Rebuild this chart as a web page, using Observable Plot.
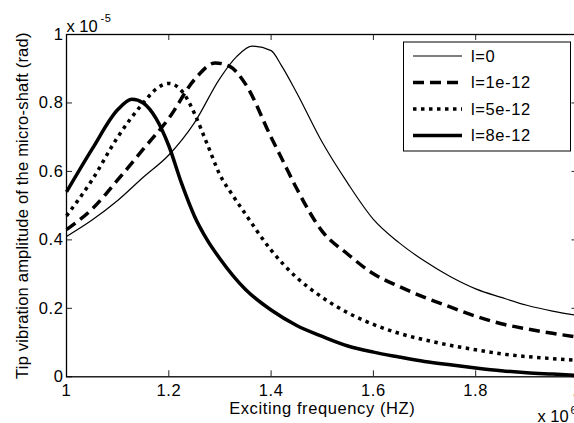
<!DOCTYPE html>
<html><head><meta charset="utf-8">
<script src="https://cdn.jsdelivr.net/npm/d3@7"></script>
<script src="https://cdn.jsdelivr.net/npm/@observablehq/plot@0.6"></script>
<style>
html,body{margin:0;padding:0;background:#fff;overflow:hidden;}
#chart svg{overflow:hidden;display:block;}
</style></head><body><div id="chart"></div>
<script>
// ---- data ----
const seriesNames = ["l=0", "l=1e-12", "l=5e-12", "l=8e-12"];

const freqL0 = [1.00,1.05,1.10,1.15,1.20,1.25,1.30,1.333,1.363,1.40,1.42,1.45,1.50,1.55,1.60,1.65,1.70,1.75,1.80,1.85,1.90,1.95,2.00];
const ampL0  = [0.41,0.458,0.515,0.583,0.648,0.742,0.872,0.936,0.966,0.953,0.91,0.83,0.685,0.565,0.46,0.392,0.338,0.293,0.257,0.232,0.209,0.192,0.179];

const freqL1 = [1.00,1.05,1.10,1.15,1.20,1.25,1.291,1.32,1.35,1.40,1.425,1.45,1.50,1.55,1.60,1.65,1.70,1.75,1.80,1.85,1.90,1.95,2.00];
const ampL1  = [0.43,0.49,0.575,0.665,0.755,0.868,0.917,0.906,0.855,0.70,0.625,0.55,0.425,0.358,0.301,0.264,0.232,0.204,0.177,0.155,0.14,0.127,0.116];

const freqL5 = [1.00,1.05,1.10,1.15,1.177,1.20,1.229,1.25,1.275,1.30,1.325,1.35,1.40,1.45,1.50,1.55,1.60,1.65,1.70,1.75,1.80,1.85,1.90,1.95,2.00];
const ampL5  = [0.47,0.575,0.70,0.80,0.843,0.857,0.828,0.77,0.68,0.59,0.53,0.475,0.37,0.29,0.232,0.187,0.153,0.127,0.108,0.092,0.079,0.067,0.059,0.053,0.048];

const freqL8 = [1.00,1.05,1.10,1.128,1.15,1.175,1.20,1.225,1.25,1.275,1.30,1.35,1.40,1.45,1.50,1.55,1.60,1.65,1.70,1.75,1.80,1.85,1.90,1.95,2.00];
const ampL8  = [0.54,0.665,0.78,0.811,0.80,0.755,0.675,0.565,0.47,0.40,0.345,0.255,0.195,0.15,0.118,0.09,0.072,0.058,0.045,0.035,0.026,0.018,0.012,0.008,0.004];

const xTicks = [1, 1.2, 1.4, 1.6, 1.8, 2];
const xTickLabels = ["1", "1.2", "1.4", "1.6", "1.8", "2"];
const yTicks = [0, 0.2, 0.4, 0.6, 0.8, 1];
const yTickLabels = ["0", "0.2", "0.4", "0.6", "0.8", "1"];
const xLabel = "Exciting frequency (HZ)";
const yLabel = "Tip vibration amplitude of the micro-shaft (rad)";
const xExponent = ["x 10", "6"];
const yExponent = ["x 10", "-5"];

// ---- styles ----
const lineStyles = [
  {strokeWidth: 1.2, strokeDasharray: null},
  {strokeWidth: 3.5, strokeDasharray: "11,6"},
  {strokeWidth: 3.5, strokeDasharray: "3.5,4.5"},
  {strokeWidth: 3.5, strokeDasharray: null}
];

const seriesData = [[freqL0, ampL0], [freqL1, ampL1], [freqL5, ampL5], [freqL8, ampL8]]
  .map(([f, a], k) => f.map((x, i) => ({x, y: a[i], s: seriesNames[k]})));

const W = 574, H = 423, mL = 66, mT = 34, mB = 46.7, mR = -3.5;
const plotH = H - mT - mB, plotW = W - mL - mR;
const font = "'Liberation Sans', Arial, Helvetica, sans-serif";

const lineMarks = seriesData.map((d, k) => Plot.line(d, {
  x: "x", y: "y", stroke: "black", curve: "monotone-x",
  strokeWidth: lineStyles[k].strokeWidth,
  ...(lineStyles[k].strokeDasharray ? {strokeDasharray: lineStyles[k].strokeDasharray} : {}),
  strokeLinecap: "butt", strokeLinejoin: "round"
}));

const chart = Plot.plot({
  width: W, height: H,
  marginLeft: mL, marginRight: mR, marginTop: mT, marginBottom: mB,
  x: {domain: [1, 2]},
  y: {domain: [0, 1]},
  style: {fontFamily: font, fontSize: "16.5px", background: "white", color: "black", overflow: "hidden", letterSpacing: "0.6px"},
  marks: [
    ...lineMarks,
    Plot.tickX(xTicks, {x: d => d, insetTop: plotH - 6, stroke: "#222", strokeWidth: 1}),
    Plot.tickX(xTicks, {x: d => d, insetBottom: plotH - 6, stroke: "#222", strokeWidth: 1}),
    Plot.tickY(yTicks, {y: d => d, insetRight: plotW - 6, stroke: "#222", strokeWidth: 1}),
    Plot.tickY(yTicks, {y: d => d, insetLeft: plotW - 6, stroke: "#222", strokeWidth: 1}),
    Plot.axisX({ticks: xTicks, tickSize: 0, tickPadding: 7, label: null,
      tickFormat: d => xTickLabels[xTicks.indexOf(d)]}),
    Plot.axisY({ticks: yTicks, tickSize: 0, tickPadding: 3, label: null,
      tickFormat: d => yTickLabels[yTicks.indexOf(d)]}),
    Plot.frame({stroke: "black", strokeWidth: 1.3}),
    Plot.text([xLabel], {text: d => d, frameAnchor: "bottom", textAnchor: "middle", lineAnchor: "bottom", dy: 37}),
    Plot.text([yLabel], {text: d => d, frameAnchor: "left", textAnchor: "middle", lineAnchor: "bottom", rotate: -90, dx: -39}),
    Plot.text([yExponent[0]], {text: d => d, frameAnchor: "top-left", textAnchor: "start", lineAnchor: "bottom", dy: -2.5}),
    Plot.text([yExponent[1]], {text: d => d, frameAnchor: "top-left", textAnchor: "start", lineAnchor: "bottom", dx: 34, dy: -13, fontSize: 11}),
    Plot.text([xExponent[0]], {text: d => d, frameAnchor: "bottom-right", textAnchor: "start", lineAnchor: "bottom", dx: -40.5, dy: 45}),
    Plot.text([xExponent[1]], {text: d => d, frameAnchor: "bottom-right", textAnchor: "start", lineAnchor: "bottom", dx: -7.5, dy: 37, fontSize: 11})
  ]
});

// per-text letter spacing tweaks
d3.select(chart).selectAll("text").filter(function() { return this.textContent === yLabel; })
  .style("letter-spacing", "0.2px");
d3.select(chart).selectAll("text").filter(function() { return this.textContent === xExponent[0]; })
  .style("letter-spacing", "0px");

// ---- legend ----
const svg = d3.select(chart);
const lg = svg.append("g").attr("text-anchor", "start");
lg.append("rect").attr("x", 403.5).attr("y", 42).attr("width", 167).attr("height", 109)
  .attr("fill", "white").attr("stroke", "black").attr("stroke-width", 1);
seriesNames.forEach((name, i) => {
  const y = 56 + i * 26.5;
  const ln = lg.append("line").attr("x1", 413).attr("x2", 462).attr("y1", y).attr("y2", y)
    .attr("stroke", "black").attr("stroke-width", lineStyles[i].strokeWidth);
  if (lineStyles[i].strokeDasharray) ln.attr("stroke-dasharray", lineStyles[i].strokeDasharray);
  lg.append("text").attr("x", 471).attr("y", y).attr("dy", "0.35em").attr("fill", "black")
    .attr("text-anchor", "start")
    .style("font-family", font).style("font-size", "16.5px").style("letter-spacing", "0.6px").text(name);
});

document.getElementById("chart").appendChild(chart);
</script>
</body></html>
